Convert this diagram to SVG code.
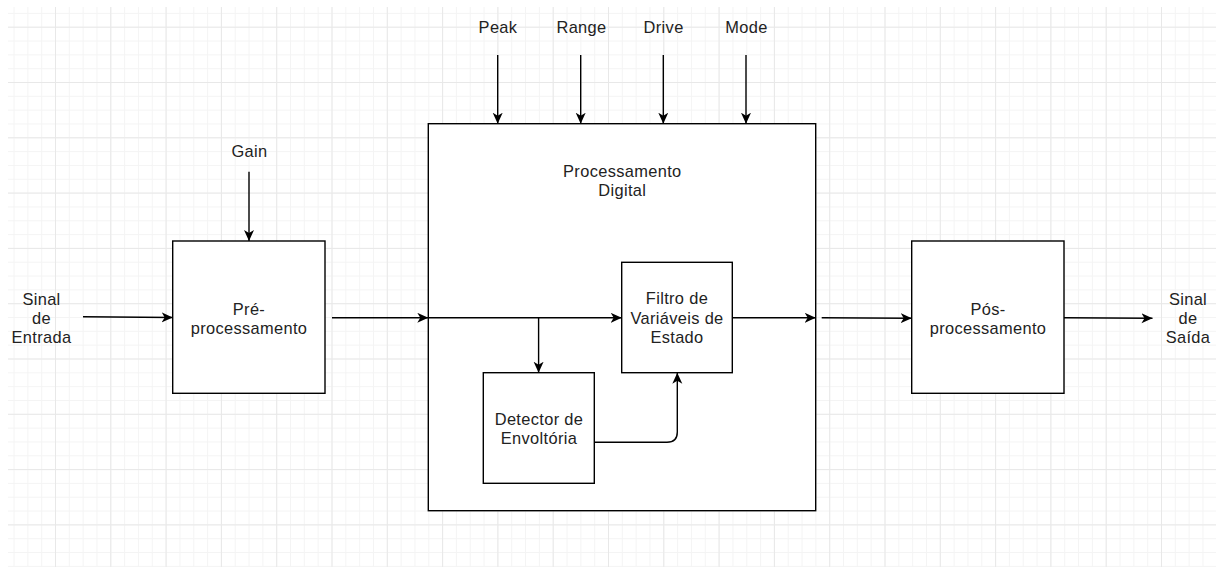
<svg xmlns="http://www.w3.org/2000/svg" width="1217" height="567" viewBox="0 0 1217 567">
<style>
.box{fill:#fff;stroke:#000;stroke-width:1.4}
.con{fill:none;stroke:#000;stroke-width:1.4}
.t{font-family:"Liberation Sans",Arial,sans-serif;font-size:16.4px;letter-spacing:0.35px;fill:#222;text-anchor:middle}
</style>
<defs>
<pattern id="gmin" patternUnits="userSpaceOnUse" x="-0.3" y="-28.6" width="13.825" height="13.825">
<rect x="0" y="0" width="1" height="13.825" fill="#f4f4f4"/>
<rect x="0" y="0" width="13.825" height="1" fill="#f4f4f4"/>
</pattern>
<pattern id="gmaj" patternUnits="userSpaceOnUse" x="-0.3" y="-28.6" width="55.3" height="55.3">
<rect x="0" y="0" width="1" height="55.3" fill="#e8e8e8"/>
<rect x="0" y="0" width="55.3" height="1" fill="#e8e8e8"/>
</pattern>
<marker id="arr" markerUnits="userSpaceOnUse" markerWidth="12" markerHeight="12" refX="11" refY="5" orient="auto">
<path d="M0,0 L11,5 L0,10 L3,5 Z" fill="#000"/>
</marker>
</defs>
<rect width="1217" height="567" fill="#fff"/>
<rect x="8" y="7" width="1208" height="560" fill="url(#gmin)"/>
<rect x="8" y="7" width="1208" height="560" fill="url(#gmaj)"/>

<g id="main">
<rect class="box" x="428.3" y="123.7" width="387.4" height="387"/>
<text class="t" x="622.3" y="176.7">Processamento</text>
<text class="t" x="622.3" y="195.7">Digital</text>
</g>
<g id="pre">
<rect class="box" x="172.7" y="241" width="152.3" height="152.3"/>
<text class="t" x="249" y="315">Pré-</text>
<text class="t" x="249" y="334">processamento</text>
</g>
<g id="filtro">
<rect class="box" x="621.7" y="262.3" width="110.6" height="110.4"/>
<text class="t" x="677" y="304.3">Filtro de</text>
<text class="t" x="677" y="324">Variáveis de</text>
<text class="t" x="677" y="343.3">Estado</text>
</g>
<g id="detector">
<rect class="box" x="483.3" y="372.7" width="111" height="110.6"/>
<text class="t" x="539" y="425">Detector de</text>
<text class="t" x="539" y="444.3">Envoltória</text>
</g>
<g id="pos">
<rect class="box" x="911.7" y="241" width="152.3" height="152.3"/>
<text class="t" x="988" y="315">Pós-</text>
<text class="t" x="988" y="334">processamento</text>
</g>
<g id="entrada">
<text class="t" x="41.5" y="305">Sinal</text>
<text class="t" x="41.5" y="324">de</text>
<text class="t" x="41.5" y="343">Entrada</text>
</g>
<g id="saida">
<text class="t" x="1188" y="305">Sinal</text>
<text class="t" x="1188" y="324">de</text>
<text class="t" x="1188" y="343">Saída</text>
</g>
<g id="gain"><text class="t" x="249.5" y="157.3">Gain</text></g>
<g id="peak"><text class="t" x="498" y="33.3">Peak</text></g>
<g id="range"><text class="t" x="581.5" y="33.3">Range</text></g>
<g id="drive"><text class="t" x="663.6" y="33.3">Drive</text></g>
<g id="mode"><text class="t" x="746.5" y="33.3">Mode</text></g>

<g id="connectors">
<path class="con" marker-end="url(#arr)" d="M83,316.8 L172.7,317.5"/>
<path class="con" marker-end="url(#arr)" d="M332,317.8 L428.3,317.8"/>
<path class="con" marker-end="url(#arr)" d="M428.3,317.8 L621.7,317.8"/>
<path class="con" marker-end="url(#arr)" d="M538.6,317.8 L538.6,372.7"/>
<path class="con" marker-end="url(#arr)" d="M732.3,317.8 L815.7,317.8"/>
<path class="con" marker-end="url(#arr)" d="M821.7,317.8 L911.7,318.2"/>
<path class="con" marker-end="url(#arr)" d="M1064,317.8 L1152.5,318.2"/>
<path class="con" marker-end="url(#arr)" d="M594.3,442.3 L667,442.3 Q677.3,442.3 677.3,432 L677.3,372.7"/>
<path class="con" marker-end="url(#arr)" d="M249,171.7 L249,241"/>
<path class="con" marker-end="url(#arr)" d="M497.7,55 L497.7,123.7"/>
<path class="con" marker-end="url(#arr)" d="M580.7,55 L580.7,123.7"/>
<path class="con" marker-end="url(#arr)" d="M663.3,55 L663.3,123.7"/>
<path class="con" marker-end="url(#arr)" d="M746,55 L746,123.7"/>
</g>
</svg>
